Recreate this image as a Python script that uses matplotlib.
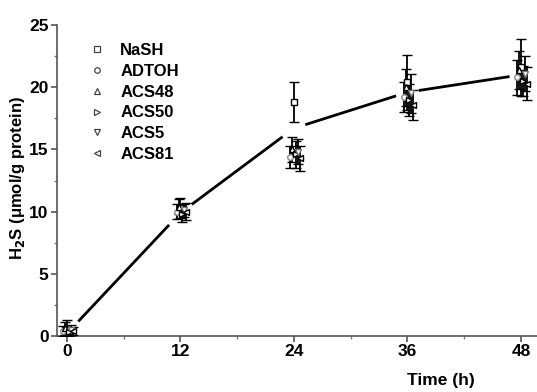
import numpy as np
import matplotlib
matplotlib.use("Agg")
import matplotlib.pyplot as plt
from matplotlib.ticker import MultipleLocator

plt.rcParams['font.family'] = ['Liberation Sans', 'DejaVu Sans']
plt.rcParams['font.weight'] = 'bold'

# Sampling times (h)
times = [0, 12, 24, 36, 48]

# H2S release per donor (umol/g protein): means and SD
series = ["NaSH", "ADTOH", "ACS48", "ACS50", "ACS5", "ACS81"]
markers = ["s", "o", "^", ">", "v", "<"]
nash_mean = [0.5, 10.3, 18.8, 20.4, 21.6]
nash_sd = [0.8, 0.8, 1.6, 2.2, 2.3]
adtoh_mean = [0.4, 10.0, 14.4, 19.2, 20.8]
adtoh_sd = [0.4, 0.6, 0.9, 1.2, 1.4]
acs48_mean = [0.6, 10.4, 15.0, 20.0, 21.4]
acs48_sd = [0.5, 0.6, 1.0, 1.5, 1.5]
acs50_mean = [0.3, 9.8, 14.6, 19.0, 20.5]
acs50_sd = [0.3, 0.6, 1.1, 1.3, 1.2]
acs5_mean = [0.5, 10.1, 14.8, 19.5, 21.1]
acs5_sd = [0.4, 0.5, 1.0, 1.6, 1.4]
acs81_mean = [0.4, 10.0, 14.3, 18.6, 20.3]
acs81_sd = [0.3, 0.7, 1.0, 1.2, 1.3]
means = [nash_mean, adtoh_mean, acs48_mean, acs50_mean, acs5_mean, acs81_mean]
sds = [nash_sd, adtoh_sd, acs48_sd, acs50_sd, acs5_sd, acs81_sd]
offsets = [0.0, -0.4, -0.2, 0.2, 0.4, 0.6]
marker_colors = ["black", "#888888", "black", "black", "#777777", "black"]

# Overall trend line
trend = [0.2, 9.9, 16.7, 19.6, 21.0]

fig = plt.figure(figsize=(5.37, 3.92), dpi=100)
ax = fig.add_axes([0.106, 0.143, 0.894, 0.793])

# trend line drawn piecewise with a gap around each time point
gap = 1.2
for i in range(len(times) - 1):
    x0, x1 = times[i], times[i + 1]
    y0, y1 = trend[i], trend[i + 1]
    xs = np.array([x0 + gap, x1 - gap])
    ys = y0 + (xs - x0) * (y1 - y0) / (x1 - x0)
    ax.plot(xs, ys, color="black", lw=2.0, solid_capstyle="butt", zorder=2)

for name, mk, m, s, off, mc in zip(series, markers, means, sds, offsets, marker_colors):
    x = np.array(times, dtype=float) + off
    ax.errorbar(x, m, yerr=s, fmt=mk, ms=4, mfc="white", mec=mc, mew=1.0,
                ecolor="black", elinewidth=1.3, capsize=3.5, capthick=1.3,
                label=name, zorder=3)

ax.set_xlim(-1.06, 49.7)
ax.set_ylim(0, 25)
ax.set_xticks(times)
ax.xaxis.set_minor_locator(MultipleLocator(6))
ax.yaxis.set_major_locator(MultipleLocator(5))
ax.yaxis.set_minor_locator(MultipleLocator(2.5))
for sp in ["top", "right"]:
    ax.spines[sp].set_visible(False)
for sp in ["left", "bottom"]:
    ax.spines[sp].set_color("#555555")
    ax.spines[sp].set_linewidth(1.2)
ax.tick_params(which="major", direction="out", length=4, width=1.2, color="#555555",
               labelsize=12.5, pad=2)
ax.tick_params(which="minor", direction="out", length=2.5, width=1.0, color="#777777")
for lab in ax.get_xticklabels() + ax.get_yticklabels():
    lab.set_fontweight("bold")

ax.set_ylabel("H$_\\mathbf{2}$S (μmol/g protein)", fontsize=12, fontweight="bold")
ax.yaxis.set_label_coords(-0.062, 0.51)
ax.set_xlabel("Time (h)", fontsize=12.5, fontweight="bold")
ax.xaxis.set_label_coords(0.8, -0.12)

handles = []
for mk in markers:
    h, = ax.plot([], [], mk, ms=4, mfc="white", mec="#444444", mew=0.9, ls="none")
    handles.append(h)
leg = ax.legend(handles, series, loc="upper left", bbox_to_anchor=(0.045, 0.975),
                frameon=False, prop={"size": 12, "weight": "bold"},
                handletextpad=0.9, labelspacing=0.35, handlelength=1.0,
                borderaxespad=0.2)

fig.savefig("out.png", dpi=100)
